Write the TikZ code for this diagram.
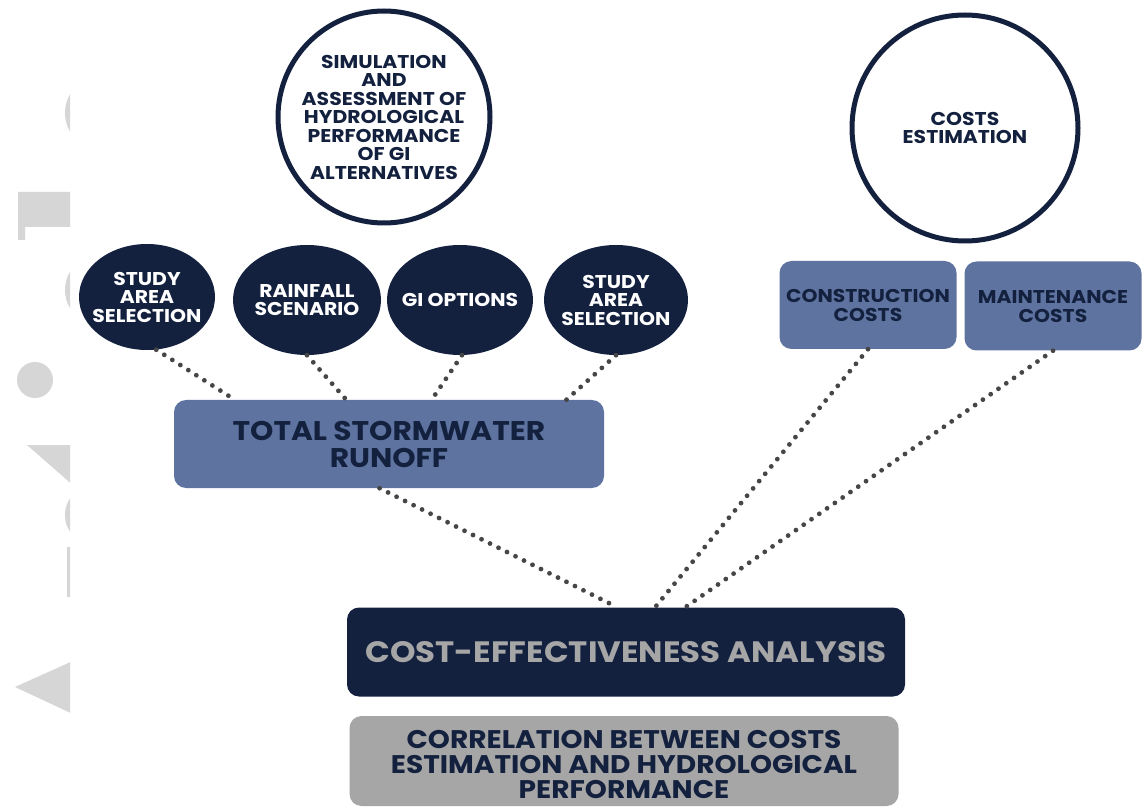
\documentclass[tikz,border=0pt]{standalone}
\usepackage{fontspec}
\setmainfont{Poppins}[FakeStretch=1.1]
\usepackage{tikz}
\usetikzlibrary{shapes.geometric}
\definecolor{navy}{HTML}{13213F}
\definecolor{slate}{HTML}{5E73A0}
\definecolor{ash}{HTML}{A6A6A6}
\definecolor{dotgray}{HTML}{464646}
\definecolor{wmgray}{HTML}{D6D6D6}
\newcommand{\fs}[2]{\bfseries\fontsize{#1}{#2}\selectfont}

\begin{document}
\begin{tikzpicture}[x=1pt,y=-1pt,
  ring/.style={circle, draw=navy, line width=5pt, text=navy, align=center, inner sep=0pt, font=\fs{18.5}{18.5}},
  bubble/.style={ellipse, fill=navy, text=white, minimum width=136pt, minimum height=106pt, inner xsep=-30pt, inner ysep=0pt, align=center, font=\fs{18.5}{18.5}},
  card/.style={rectangle, rounded corners=12pt, fill=slate, text=navy, inner sep=0pt, align=center},
  link/.style={draw=dotgray, line width=4.8pt, line cap=round, dash pattern=on 0pt off 9.5pt}]
\useasboundingbox[fill=white] (0,0) rectangle (1144,810);

% faint marks along the left edge
\begin{scope}
\clip (0,0) rectangle (70,810);
\fill[wmgray] (102,113) circle (37);
\fill[wmgray] (18,192) rectangle (75,227) (18,227) rectangle (25,240);
\fill[wmgray] (100,290) circle (35);
\fill[wmgray] (35,380) circle (18);
\fill[wmgray] (27,445) -- (75,445) -- (75,487) -- cycle;
\fill[wmgray] (95,515) circle (30);
\fill[wmgray] (67,547) rectangle (75,597);
\fill[wmgray] (15,687) -- (75,660) -- (75,715) -- cycle;
\end{scope}

% top circles
\node[ring, minimum size=212pt] (sim) at (384,117) {SIMULATION\\AND\\ASSESSMENT OF\\HYDROLOGICAL\\PERFORMANCE\\OF GI\\ALTERNATIVES};
\node[ring, minimum size=226pt] (costest) at (965,128) {COSTS\\ESTIMATION};

% inputs of the runoff model
\node[bubble] (area1) at (147,297) {STUDY\\AREA\\SELECTION};
\node[bubble, minimum width=148pt, minimum height=110pt] (rain) at (307,300) {RAINFALL\\SCENARIO};
\node[bubble, minimum width=146pt, minimum height=110pt] (gi) at (460,300) {GI OPTIONS};
\node[bubble, minimum width=144pt, minimum height=110pt] (area2) at (616,300) {STUDY\\AREA\\SELECTION};

% cost items
\node[card, minimum width=177pt, minimum height=88pt, font=\fs{18.5}{19}] (constr) at (868,305) {CONSTRUCTION\\COSTS};
\node[card, minimum width=177pt, minimum height=89pt, font=\fs{18.5}{19}] (maint) at (1053,306) {MAINTENANCE\\COSTS};

% results
\node[card, minimum width=430pt, minimum height=88pt, font=\fs{27}{27}] (runoff) at (389,444) {TOTAL STORMWATER\\RUNOFF};
\node[card, fill=navy, text=ash, minimum width=558pt, minimum height=89pt, font=\fs{29.5}{30}] (cea) at (626,652) {COST-EFFECTIVENESS ANALYSIS};
\node[card, fill=ash, minimum width=549pt, minimum height=90pt, font=\fs{25.5}{25}] (corr) at (624,761) {\rule{0pt}{26pt}CORRELATION BETWEEN COSTS\\ESTIMATION AND HYDROLOGICAL\\PERFORMANCE};

% dotted links
\draw[link] (area1.280) -- (runoff.164);
\draw[link] (rain.270) -- (runoff.134);
\draw[link] (gi.272) -- (runoff.46);
\draw[link] (area2.270) -- (runoff.14);
\draw[link] (runoff.258) -- (cea.101);
\draw[link] (constr.270) -- (cea.57);
\draw[link] (maint.270) -- (cea.37);
\end{tikzpicture}
\end{document}
